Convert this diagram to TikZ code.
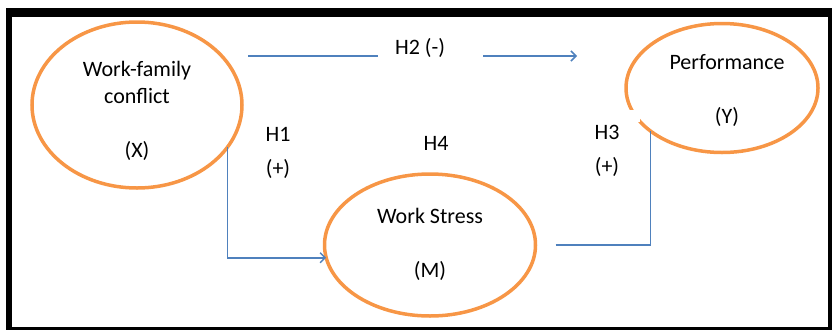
\documentclass[tikz,border=0pt]{standalone}
\usepackage{fontspec}
\setmainfont{Carlito}
\usetikzlibrary{shapes.geometric,arrows.meta}
\definecolor{orng}{HTML}{F79646}
\definecolor{blu}{HTML}{4F81BD}
\begin{document}
\begin{tikzpicture}[x=1pt,y=-1pt,
  var/.style={ellipse, draw=orng, line width=3.5pt, inner sep=0pt, outer sep=0pt},
  conn/.style={draw=blu, line width=1.6pt},
  arr/.style={conn, -{Straight Barb[length=5pt,width=10pt,line width=1.5pt]}},
  txt/.style={font=\fontsize{22}{27}\selectfont, text=black, align=center, inner sep=0pt},
  hyp/.style={font=\fontsize{22}{34}\selectfont, text=black, align=center, inner sep=0pt},
  framebar/.style={fill=black}]
\useasboundingbox (0,0) rectangle (832,330);
% frame
\fill[framebar] (6,8) rectangle (832,17);
\fill[framebar] (6,8) rectangle (12,329.5);
\fill[framebar] (828,8) rectangle (832,329.5);
\fill[framebar] (6,327) rectangle (832,329.5);
% variables
\node[var, minimum width=210pt, minimum height=166pt] (X) at (137,105) {};
\node[var, minimum width=192pt, minimum height=129pt] (Y) at (722,88) {};
\node[var, minimum width=211pt, minimum height=142pt] (M) at (430,245) {};
\fill[white] (629,110) rectangle (640,122);
\node[txt] (Xt) at (137,111) {Work-family\\conflict\\\mbox{}\\(X)};
\node[txt] (Yt) at (727,90) {Performance\\\mbox{}\\(Y)};
\node[txt] (Mt) at (430,244.5) {Work Stress\\\mbox{}\\(M)};
% H2
\coordinate (h2a) at (248,56);
\coordinate (h2b) at (378,56);
\coordinate (h2c) at (483,56);
\coordinate (h2d) at (577,56);
\node[txt] (H2) at (420,48) {H2 (-)};
\draw[conn] (h2a) -- (h2b);
\draw[arr] (h2c) -- (h2d);
% H1
\draw[arr] (X.-25) |- (M.187.5);
\node[hyp] (H1) at (278,153) {H1\\(+)};
% H3
\draw[conn] ([xshift=20pt]M.east) -| (Y.211);
\node[hyp] (H3) at (607,151) {H3\\(+)};
% H4
\node[txt] (H4) at (436,143) {H4};
\end{tikzpicture}
\end{document}
